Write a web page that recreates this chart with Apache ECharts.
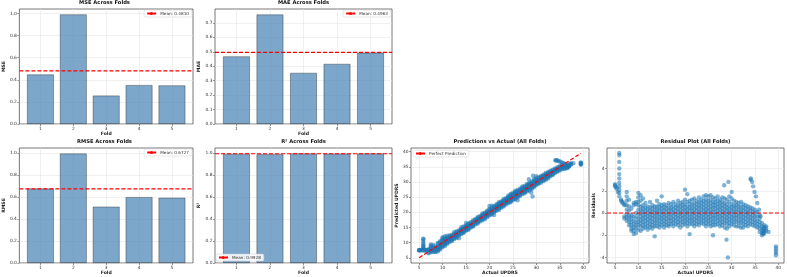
<!DOCTYPE html>
<html>
<head>
<meta charset="utf-8">
<script src="https://cdn.jsdelivr.net/npm/echarts@6/dist/echarts.min.js"></script>
<style>
  html, body { margin: 0; padding: 0; background: #fff; }
  #main { width: 787px; height: 277px; }
</style>
</head>
<body>
<div id="main"></div>
<script>
// per-fold metrics
var folds = ['1', '2', '3', '4', '5'];
var mseVals = [0.448, 0.991, 0.257, 0.352, 0.349];
var maeVals = [0.468, 0.758, 0.354, 0.416, 0.493];
var rmseVals = [0.677, 0.995, 0.512, 0.599, 0.593];
var r2Vals = [0.992, 0.988, 0.995, 0.994, 0.995];
var meanVals = [0.4810, 0.4963, 0.6727, 0.9928];

var unitTicks = [0, 0.2, 0.4, 0.6, 0.8, 1.0];
var maeTicks = [0, 0.1, 0.2, 0.3, 0.4, 0.5, 0.6, 0.7];
var updrsTicks = [5, 10, 15, 20, 25, 30, 35, 40];
var residTicks = [-4, -2, 0, 2, 4];

// actual UPDRS -> residuals (predicted = actual + residual)
var residualCols = [
  [5.0, [2.6, 2.5, 2.4]],
  [5.3, [2.3, 2.2]],
  [5.6, [1.9]],
  [5.9, [5.4, 5.2, 4.6, 4.0, 3.5, 3.1, 2.7, 2.4, 2.1, 1.8, 1.5]],
  [6.3, [1.2, 1.1]],
  [6.6, [1.0, 0.9]],
  [7.0, [0.8, 0.7, -0.3, -0.5]],
  [7.5, [1.9, 1.5, 1.1, 0.7, 0.3, -0.1, -0.4, -0.7]],
  [8.0, [1.2, 0.6, 0.2, -0.2, -0.5, -0.8, -1.1]],
  [8.5, [0.4, -0.2, -0.5, -0.8, -1.1, -1.4, -1.6]],
  [9.0, [0.9, 0.7, -0.3, -0.7, -1.0, -1.3, -1.6, -1.9]],
  [9.5, [1.0, 0.8, 0.0, -0.4, -0.8, -1.1, -1.4, -1.8]],
  [10.0, [1.8, 1.4, 1.0, 0.7, 0.3, -0.1, -0.5, -0.8, -1.1, -1.5]],
  [10.5, [1.6, 1.1, 0.6, 0.3, 0.0, -0.3, -0.6, -0.9, -1.2, -1.6]],
  [11.0, [1.3, 0.7, 0.4, 0.1, -0.2, -0.5, -0.8, -1.1, -1.4]],
  [11.5, [0.9, 0.5, 0.2, -0.1, -0.4, -0.7, -1.0, -1.3]],
  [12.0, [0.6, 0.3, 0.0, -0.3, -0.6, -0.9, -1.2, -1.5]],
  [12.5, [1.0, 0.5, 0.2, -0.1, -0.4, -0.7, -1.0, -1.3]],
  [13.0, [0.7, 0.4, 0.1, -0.2, -0.5, -0.8, -1.1, -1.4]],
  [13.5, [0.6, 0.3, 0.0, -0.3, -0.6, -0.9, -1.2, -2.1]],
  [14.0, [1.1, 0.6, 0.3, 0.0, -0.3, -0.6, -0.9, -1.2]],
  [14.5, [0.8, 0.5, 0.2, -0.1, -0.4, -0.7, -1.0, -1.3]],
  [15.0, [1.5, 0.7, 0.4, 0.1, -0.2, -0.5, -0.8, -1.1]],
  [15.5, [0.8, 0.5, 0.2, -0.1, -0.4, -0.7, -1.0, -1.3]],
  [16.0, [0.7, 0.4, 0.1, -0.2, -0.5, -0.8, -1.1]],
  [16.5, [0.9, 0.5, 0.2, -0.1, -0.4, -0.7, -1.0, -1.2]],
  [17.0, [0.8, 0.5, 0.2, -0.1, -0.4, -0.7, -1.0]],
  [17.5, [1.0, 0.6, 0.3, 0.0, -0.3, -0.6, -0.9, -1.2]],
  [18.0, [0.8, 0.5, 0.2, -0.1, -0.4, -0.7, -1.0]],
  [18.5, [1.1, 0.7, 0.4, 0.1, -0.2, -0.5, -0.8, -1.1]],
  [19.0, [0.9, 0.6, 0.3, 0.0, -0.3, -0.6, -0.9, -1.3]],
  [19.5, [1.0, 0.7, 0.4, 0.1, -0.2, -0.5, -0.8, -1.1]],
  [20.0, [2.1, 1.2, 0.8, 0.5, 0.2, -0.1, -0.4, -0.7, -1.0]],
  [20.5, [1.7, 1.0, 0.6, 0.3, 0.0, -0.3, -0.6, -0.9, -1.2]],
  [21.0, [1.1, 0.8, 0.5, 0.2, -0.1, -0.4, -0.7, -1.0, -1.9]],
  [21.5, [1.2, 0.8, 0.5, 0.2, -0.1, -0.4, -0.7, -1.0]],
  [22.0, [1.3, 0.9, 0.6, 0.3, 0.0, -0.3, -0.6, -0.9, -1.2]],
  [22.5, [1.1, 0.8, 0.5, 0.2, -0.1, -0.4, -0.7, -1.0]],
  [23.0, [1.4, 1.0, 0.7, 0.4, 0.1, -0.2, -0.5, -0.8, -1.1]],
  [23.5, [1.2, 0.9, 0.6, 0.3, 0.0, -0.3, -0.6, -0.9]],
  [24.0, [1.5, 1.1, 0.8, 0.5, 0.2, -0.1, -0.4, -0.7, -1.0]],
  [24.5, [1.6, 1.2, 0.9, 0.6, 0.3, 0.0, -0.3, -0.6, -0.9, -1.2]],
  [25.0, [1.5, 1.1, 0.8, 0.5, 0.2, -0.1, -0.4, -0.7, -1.0]],
  [25.5, [1.6, 1.2, 0.9, 0.6, 0.3, 0.0, -0.3, -0.6, -0.9, -1.2]],
  [26.0, [1.4, 1.0, 0.7, 0.4, 0.1, -0.2, -0.5, -0.8, -1.1, -2.0]],
  [26.5, [1.3, 1.0, 0.7, 0.4, 0.1, -0.2, -0.5, -0.8, -1.1]],
  [27.0, [1.5, 1.1, 0.8, 0.5, 0.2, -0.1, -0.4, -0.7, -1.0]],
  [27.5, [1.2, 0.9, 0.6, 0.3, 0.0, -0.3, -0.6, -0.9, -1.2]],
  [28.0, [1.4, 1.0, 0.7, 0.4, 0.1, -0.2, -0.5, -0.8, -1.1]],
  [28.4, [2.5]],
  [28.5, [1.3, 0.9, 0.6, 0.3, 0.0, -0.3, -0.6, -0.9, -1.3]],
  [28.9, [-2.4]],
  [29.0, [1.2, 0.8, 0.5, 0.2, -0.1, -0.4, -0.7, -1.0, -1.4]],
  [29.2, [-4.0]],
  [29.3, [2.8]],
  [29.5, [1.5, 1.0, 0.6, 0.3, 0.0, -0.3, -0.6, -0.9, -1.2]],
  [30.0, [1.9, 1.3, 0.8, 0.5, 0.2, -0.1, -0.4, -0.7, -1.0]],
  [30.5, [1.1, 0.7, 0.4, 0.1, -0.2, -0.5, -0.8, -1.1]],
  [31.0, [1.0, 0.7, 0.4, 0.1, -0.2, -0.5, -0.8, -1.2]],
  [31.5, [0.9, 0.6, 0.3, 0.0, -0.3, -0.6, -0.9, -1.2]],
  [32.0, [1.0, 0.6, 0.3, 0.0, -0.3, -0.6, -0.9, -1.3]],
  [32.5, [0.8, 0.5, 0.2, -0.1, -0.4, -0.7, -1.0, -1.3]],
  [33.0, [0.7, 0.4, 0.1, -0.2, -0.5, -0.8, -1.1]],
  [33.5, [0.6, 0.3, 0.0, -0.3, -0.6, -0.9, -1.2]],
  [34.0, [0.5, 0.2, -0.1, -0.4, -0.7, -1.0]],
  [34.1, [3.1, 3.0]],
  [34.4, [2.8]],
  [34.5, [0.4, 0.1, -0.2, -0.5, -0.8, -1.1]],
  [34.6, [2.4]],
  [34.9, [1.9]],
  [35.0, [0.3, 0.0, -0.3, -0.6, -0.9, -1.2]],
  [35.2, [1.5]],
  [35.5, [0.9, 0.1, -0.3, -0.7, -1.0, -1.3]],
  [35.9, [0.3]],
  [36.0, [-0.2, -0.5, -0.8, -1.1, -1.4, -1.7]],
  [36.2, [-0.3]],
  [36.5, [-0.9, -1.2, -1.5, -1.8, -2.0]],
  [36.8, [-1.4, -1.6, -1.8, -1.9]],
  [37.0, [-1.1, -1.3, -1.6, -1.8]],
  [37.4, [-1.2, -1.4, -1.6]],
  [37.9, [-1.7]],
  [39.5, [-3.0, -3.2, -3.4, -3.6, -3.8]]
];

var FONT = 'DejaVu Sans';
var FRAME = '#555';
var GRIDLINE = '#e6e6e6';
var BLUE_PT = 'rgba(31,119,180,0.7)';

var chart = echarts.init(document.getElementById('main'));

var grids = [
  {left: 16, top: 9, width: 177, height: 115},
  {left: 215, top: 9, width: 177, height: 115},
  {left: 16, top: 148, width: 177, height: 115},
  {left: 215, top: 148, width: 177, height: 115},
  {left: 411, top: 148, width: 178, height: 115},
  {left: 607, top: 148, width: 177, height: 115}
];
grids.forEach(function (g) {
  g.show = true;
  g.borderColor = FRAME;
  g.borderWidth = 0.8;
  g.backgroundColor = 'transparent';
  g.containLabel = false;
});

var titles = ['MSE Across Folds', 'MAE Across Folds', 'RMSE Across Folds', 'R\u00b2 Across Folds',
  'Predictions vs Actual (All Folds)', 'Residual Plot (All Folds)'];

function axisBase(idx, name, gap) {
  return {
    gridIndex: idx,
    type: 'value',
    name: name,
    nameLocation: 'middle',
    nameGap: gap,
    nameTextStyle: {fontFamily: FONT, fontWeight: 'bold', fontSize: 4.6, color: '#222'},
    axisLine: {show: false, onZero: false},
    axisTick: {show: true, length: 2, lineStyle: {color: FRAME, width: 0.6}},
    axisLabel: {fontFamily: FONT, fontSize: 4.4, color: '#333', margin: 2.5},
    splitLine: {show: true, lineStyle: {color: GRIDLINE, width: 0.6}}
  };
}

var xAxes = [], yAxes = [], series = [], legends = [];

var barSets = [
  {vals: mseVals, name: 'MSE', max: 1.04, ticks: unitTicks, split: 5, ygap: 11},
  {vals: maeVals, name: 'MAE', max: 0.796, ticks: maeTicks, split: 8, ygap: 12},
  {vals: rmseVals, name: 'RMSE', max: 1.045, ticks: unitTicks, split: 5, ygap: 11},
  {vals: r2Vals, name: 'R\u00b2', max: 1.045, ticks: unitTicks, split: 5, ygap: 12}
];

barSets.forEach(function (b, i) {
  var x = axisBase(i, 'Fold', 7.5);
  x.min = -0.64; x.max = 4.64; x.splitNumber = 5;
  x.axisTick.customValues = [0, 1, 2, 3, 4];
  x.axisLabel.customValues = [0, 1, 2, 3, 4];
  x.axisLabel.formatter = function (v) { return folds[Math.round(v)]; };
  xAxes.push(x);

  var y = axisBase(i, b.name, b.ygap);
  y.min = 0; y.max = b.max; y.splitNumber = b.split;
  y.axisTick.customValues = b.ticks;
  y.axisLabel.customValues = b.ticks;
  y.axisLabel.formatter = function (v) { return v.toFixed(1); };
  yAxes.push(y);

  var bw = 0.8 / 5.28 * grids[i].width;
  series.push({
    type: 'bar', xAxisIndex: i, yAxisIndex: i, barWidth: bw, silent: true,
    data: b.vals.map(function (v, k) { return [k, v]; }),
    itemStyle: {color: 'rgba(70,130,180,0.7)', borderColor: 'rgba(0,0,0,0.55)', borderWidth: 0.6}
  });
  var label = 'Mean: ' + meanVals[i].toFixed(4);
  series.push({
    type: 'line', name: label, xAxisIndex: i, yAxisIndex: i, symbol: 'none', silent: true, z: 5,
    data: [[-0.64, meanVals[i]], [4.64, meanVals[i]]],
    lineStyle: {color: '#ff0000', width: 1.2, type: [4, 2]},
    itemStyle: {color: '#ff0000'}
  });
});

var legendBase = {
  orient: 'vertical', itemWidth: 9, itemHeight: 4, itemGap: 2,
  textStyle: {fontFamily: FONT, fontSize: 4.2, color: '#333', padding: [0, 0, 0, -1]},
  backgroundColor: 'rgba(255,255,255,0.85)', borderColor: '#cccccc', borderWidth: 0.5,
  borderRadius: 1.5, padding: [1.5, 3, 1.5, 2], selectedMode: false
};
function legendAt(name, pos) {
  var l = Object.assign({}, legendBase, pos);
  l.data = [name];
  return l;
}
legends.push(legendAt('Mean: ' + meanVals[0].toFixed(4), {right: 595, top: 10}));
legends.push(legendAt('Mean: ' + meanVals[1].toFixed(4), {right: 396, top: 10}));
legends.push(legendAt('Mean: ' + meanVals[2].toFixed(4), {right: 595, top: 149}));
legends.push(legendAt('Mean: ' + meanVals[3].toFixed(4), {left: 216, top: 254}));
legends.push(legendAt('Perfect Prediction', {left: 413, top: 150}));

// scatter points
var predPts = [], residPts = [];
var minActual = Infinity, maxActual = -Infinity;
residualCols.forEach(function (c) {
  var a = c[0];
  minActual = Math.min(minActual, a);
  maxActual = Math.max(maxActual, a);
  c[1].forEach(function (r) {
    residPts.push([a, r]);
    predPts.push([a, +(a + r).toFixed(2)]);
  });
});

// predictions vs actual
var px = axisBase(4, 'Actual UPDRS', 6);
px.min = 3.27; px.max = 41.23; px.splitNumber = 8;
px.axisTick.customValues = updrsTicks; px.axisLabel.customValues = updrsTicks;
xAxes.push(px);
var py = axisBase(4, 'Predicted UPDRS', 7);
py.min = 3.27; py.max = 41.23; py.splitNumber = 8;
py.axisTick.customValues = updrsTicks; py.axisLabel.customValues = updrsTicks;
yAxes.push(py);
series.push({
  type: 'scatter', xAxisIndex: 4, yAxisIndex: 4, data: predPts, symbolSize: 4.4, silent: true,
  itemStyle: {color: BLUE_PT}
});
series.push({
  type: 'line', name: 'Perfect Prediction', xAxisIndex: 4, yAxisIndex: 4, symbol: 'none', silent: true, z: 5,
  data: [[minActual, minActual], [maxActual, maxActual]],
  lineStyle: {color: '#ff0000', width: 1.2, type: [4, 2]},
  itemStyle: {color: '#ff0000'}
});

// residuals
var rx = axisBase(5, 'Actual UPDRS', 6);
rx.min = 3.27; rx.max = 41.23; rx.splitNumber = 8;
rx.axisTick.customValues = updrsTicks; rx.axisLabel.customValues = updrsTicks;
xAxes.push(rx);
var ry = axisBase(5, 'Residuals', 8);
ry.min = -4.5; ry.max = 5.85; ry.splitNumber = 5;
ry.axisTick.customValues = residTicks; ry.axisLabel.customValues = residTicks;
yAxes.push(ry);
series.push({
  type: 'scatter', xAxisIndex: 5, yAxisIndex: 5, data: residPts, symbolSize: 4.4, silent: true,
  itemStyle: {color: BLUE_PT}
});
series.push({
  type: 'line', xAxisIndex: 5, yAxisIndex: 5, symbol: 'none', silent: true, z: 5,
  data: [[3.27, 0], [41.23, 0]],
  lineStyle: {color: '#ff0000', width: 1.2, type: [4, 2]}
});

var option = {
  animation: false,
  backgroundColor: '#fff',
  title: titles.map(function (t, i) {
    return {
      text: t, left: grids[i].left + grids[i].width / 2, top: grids[i].top - 8.5,
      textAlign: 'center', padding: 0,
      textStyle: {fontFamily: FONT, fontWeight: 'bold', fontSize: 5.2, color: '#111'}
    };
  }),
  legend: legends,
  grid: grids,
  xAxis: xAxes,
  yAxis: yAxes,
  series: series
};

chart.setOption(option);
</script>
</body>
</html>
